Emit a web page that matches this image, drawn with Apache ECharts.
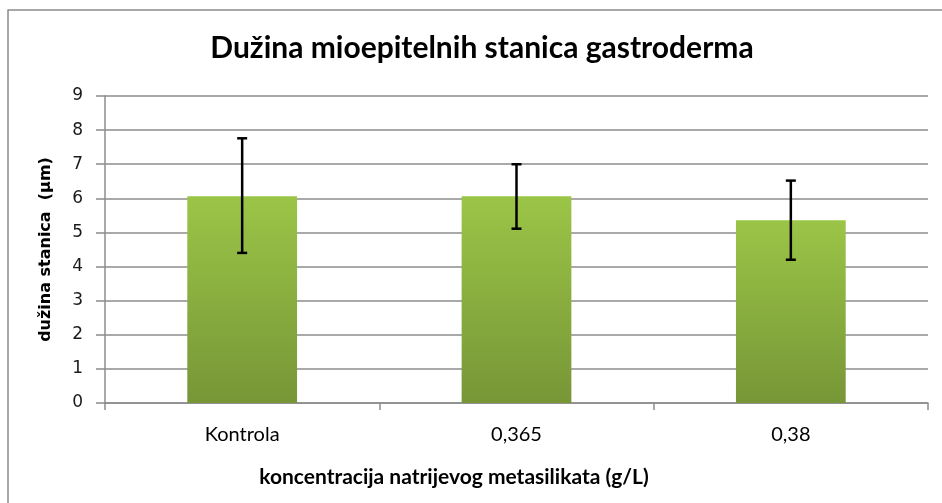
<!DOCTYPE html>
<html>
<head>
<meta charset="utf-8">
<script src="https://cdn.jsdelivr.net/npm/echarts@6/dist/echarts.min.js"></script>
<style>
  html, body { margin: 0; padding: 0; background: #fff; }
  #chart { width: 942px; height: 503px; }
</style>
</head>
<body>
<div id="chart"></div>
<script>
// podaci očitani sa slike
const categories = ['Kontrola', '0,365', '0,38'];
const means = [6.06, 6.06, 5.36];
const errLow = [4.40, 5.11, 4.20];
const errHigh = [7.76, 7.00, 6.52];
const yTicks = [0, 1, 2, 3, 4, 5, 6, 7, 8, 9];

const chart = echarts.init(document.getElementById('chart'));

const option = {
  animation: false,
  title: [
    {
      text: 'Dužina mioepitelnih stanica gastroderma',
      left: 477,
      top: 28,
      textAlign: 'center',
      textStyle: { fontFamily: 'Lato', fontWeight: 'bold', fontSize: 30, color: '#000' }
    },
    {
      text: 'koncentracija natrijevog metasilikata (g/L)',
      left: 449,
      top: 462,
      textAlign: 'center',
      textStyle: { fontFamily: 'Lato', fontWeight: 'bold', fontSize: 21, color: '#000' }
    }
  ],
  graphic: [{
    type: 'rect',
    shape: { x: 8, y: 10, width: 960, height: 520 },
    style: { fill: 'none', stroke: '#8c8c8c', lineWidth: 1.5 },
    silent: true
  }],
  grid: { left: 105, right: 14, top: 96, bottom: 100 },
  xAxis: {
    type: 'category',
    data: categories,
    axisLine: { lineStyle: { color: '#8c8c8c', width: 1.5 } },
    axisTick: { show: true, length: 7, lineStyle: { color: '#8c8c8c', width: 1.5 } },
    axisLabel: { fontFamily: 'Lato', fontSize: 20, color: '#000', margin: 22 }
  },
  yAxis: {
    type: 'value',
    min: yTicks[0],
    max: yTicks[yTicks.length - 1],
    interval: 1,
    name: 'dužina stanica  (µm)',
    nameLocation: 'middle',
    nameGap: 51,
    nameTextStyle: { fontFamily: '"DejaVu Sans"', fontWeight: 'bold', fontSize: 16, color: '#000' },
    axisLine: { show: true, lineStyle: { color: '#8c8c8c', width: 1.5 } },
    axisTick: { show: true, length: 9, lineStyle: { color: '#8c8c8c', width: 1.5 } },
    axisLabel: { fontFamily: '"DejaVu Sans"', fontSize: 17, color: '#1a1a1a', margin: 22 },
    splitLine: { lineStyle: { color: '#8c8c8c', width: 1.5 } }
  },
  series: [
    {
      type: 'bar',
      data: means,
      barWidth: '40%',
      itemStyle: {
        color: new echarts.graphic.LinearGradient(0, 0, 0, 1, [
          { offset: 0, color: '#9bc547' },
          { offset: 1, color: '#779637' }
        ])
      },
      z: 2
    },
    {
      type: 'custom',
      data: categories.map((c, i) => [i, errLow[i], errHigh[i]]),
      z: 3,
      renderItem: function (params, api) {
        const lo = api.coord([api.value(0), api.value(1)]);
        const hi = api.coord([api.value(0), api.value(2)]);
        const cap = 5;
        const st = { stroke: '#000', lineWidth: 2.5 };
        return {
          type: 'group',
          children: [
            { type: 'line', shape: { x1: hi[0], y1: hi[1], x2: lo[0], y2: lo[1] }, style: st },
            { type: 'line', shape: { x1: hi[0] - cap, y1: hi[1], x2: hi[0] + cap, y2: hi[1] }, style: st },
            { type: 'line', shape: { x1: lo[0] - cap, y1: lo[1], x2: lo[0] + cap, y2: lo[1] }, style: st }
          ]
        };
      }
    }
  ]
};

chart.setOption(option);
</script>
</body>
</html>
